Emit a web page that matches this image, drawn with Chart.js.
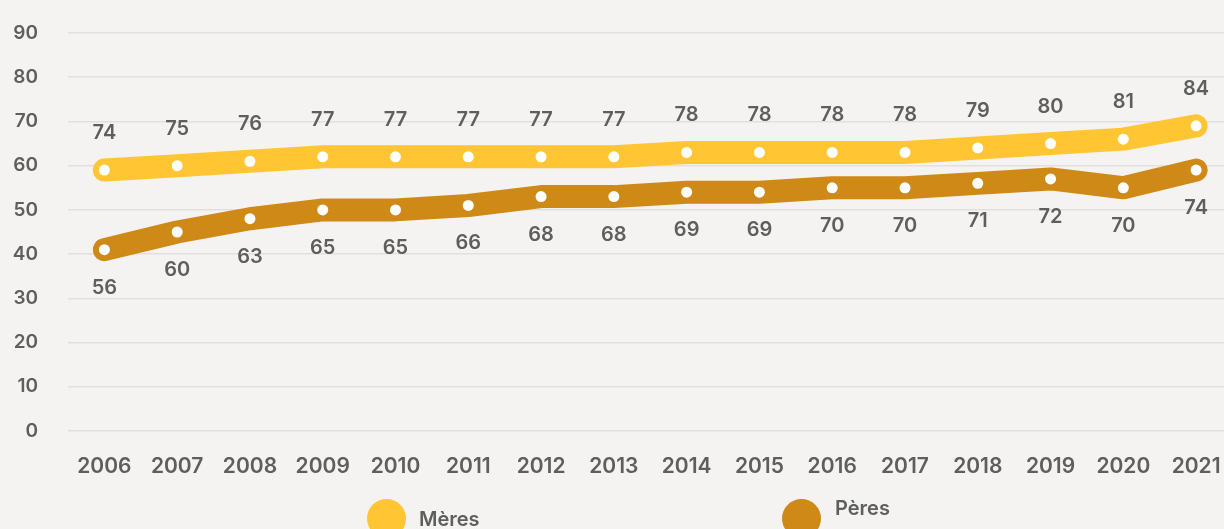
<!DOCTYPE html>
<html>
<head>
<meta charset="utf-8">
<script src="https://cdn.jsdelivr.net/npm/chart.js@4.4.1/dist/chart.umd.min.js"></script>
<style>
  html, body { margin: 0; padding: 0; background: #f4f3f1; overflow: hidden; width: 1224px; height: 529px; }
  #wrap { position: relative; width: 1238px; height: 529px; }
  canvas { display: block; }
  .lg { position: absolute; font-family: Inter, "Open Sans", sans-serif; font-weight: 600; font-size: 20px; color: #5e5e5e; white-space: nowrap; }
  .dot { position: absolute; width: 39px; height: 39px; border-radius: 50%; }
</style>
</head>
<body>
<div id="wrap">
  <canvas id="c" width="1238" height="529"></canvas>
  <div class="dot" style="left:367px; top:499px; background:#FFC532;"></div>
  <div class="lg" style="left:419px; top:507px;">Mères</div>
  <div class="dot" style="left:782px; top:499px; background:#CF8917;"></div>
  <div class="lg" style="left:835px; top:496px;">Pères</div>
</div>
<script>
const years = ['2006','2007','2008','2009','2010','2011','2012','2013','2014','2015','2016','2017','2018','2019','2020','2021'];
// Positions of the points
const meresPlot = [59,60,61,62,62,62,62,62,63,63,63,63,64,65,66,69];
const peresPlot = [41,45,48,50,50,51,53,53,54,54,55,55,56,57,55,59];
// Values printed next to the points
const meresLabels = [74,75,76,77,77,77,77,77,78,78,78,78,79,80,81,84];
const peresLabels = [56,60,63,65,65,66,68,68,69,69,70,70,71,72,70,74];
const yTicks = [0,10,20,30,40,50,60,70,80,90];

const TEXT = '#5e5e5e';
const FONT = 'Inter, "Open Sans", sans-serif';

const labelPlugin = {
  id: 'valLabels',
  afterDatasetsDraw(chart) {
    const ctx = chart.ctx;
    ctx.save();
    ctx.font = '600 20px ' + FONT;
    ctx.fillStyle = TEXT;
    ctx.textAlign = 'center';
    ctx.textBaseline = 'middle';
    const sets = [{ idx: 0, labels: meresLabels, dy: -37 }, { idx: 1, labels: peresLabels, dy: 38 }];
    sets.forEach(s => {
      const meta = chart.getDatasetMeta(s.idx);
      meta.data.forEach((pt, i) => {
        ctx.fillText(String(s.labels[i]), pt.x, pt.y + s.dy);
      });
    });
    ctx.restore();
  }
};

new Chart(document.getElementById('c'), {
  type: 'line',
  data: {
    labels: years,
    datasets: [
      {
        label: 'Mères',
        data: meresPlot,
        borderColor: '#FFC532',
        backgroundColor: '#FFC532',
        borderWidth: 23,
        borderCapStyle: 'round',
        borderJoinStyle: 'round',
        tension: 0,
        pointRadius: 5.5,
        pointBorderWidth: 0,
        pointBackgroundColor: '#ffffff',
        pointHoverRadius: 5.5
      },
      {
        label: 'Pères',
        data: peresPlot,
        borderColor: '#CF8917',
        backgroundColor: '#CF8917',
        borderWidth: 23,
        borderCapStyle: 'round',
        borderJoinStyle: 'round',
        tension: 0,
        pointRadius: 5.5,
        pointBorderWidth: 0,
        pointBackgroundColor: '#ffffff',
        pointHoverRadius: 5.5
      }
    ]
  },
  options: {
    responsive: false,
    animation: false,
    layout: { padding: { top: 33, left: 0, right: 0, bottom: 0 } },
    plugins: { legend: { display: false }, tooltip: { enabled: false } },
    scales: {
      x: {
        offset: true,
        grid: { display: false, drawTicks: false },
        border: { display: false },
        ticks: { color: TEXT, font: { family: FONT, size: 21, weight: '600' }, padding: 23, maxRotation: 0, autoSkip: false },
        afterFit(scale) { scale.height = 98; scale.paddingLeft = 0; scale.paddingRight = 0; }
      },
      y: {
        min: 0, max: 90,
        afterBuildTicks(scale) { scale.ticks = yTicks.map(v => ({ value: v })); },
        grid: { color: '#e3e0db', lineWidth: 1.5, drawTicks: false },
        border: { display: false },
        ticks: { color: TEXT, font: { family: FONT, size: 19, weight: '600' }, padding: 30 },
        afterFit(scale) { scale.width = 68; scale.paddingTop = 0; scale.paddingBottom = 0; }
      }
    }
  },
  plugins: [labelPlugin]
});
</script>
</body>
</html>
